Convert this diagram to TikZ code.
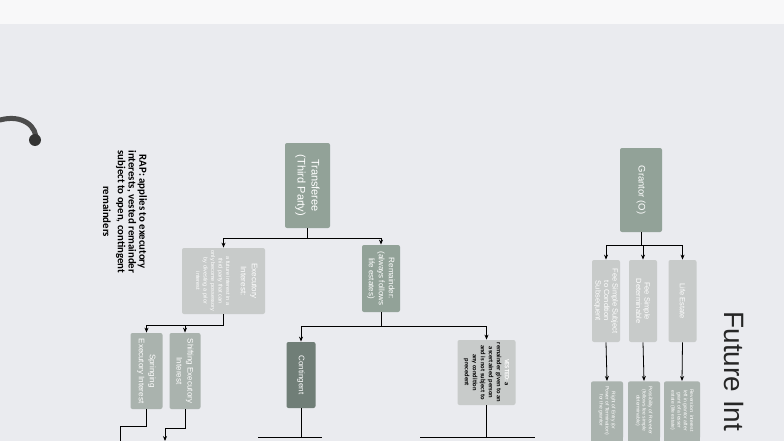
\documentclass[tikz,border=0pt]{standalone}
\usepackage{fontspec}
\setmainfont{Liberation Sans}
\newfontfamily\rapfont{Carlito}
\usetikzlibrary{arrows.meta}
\definecolor{page}{RGB}{234,235,239}
\definecolor{band}{RGB}{248,248,249}
\definecolor{boxa}{RGB}{146,162,152}
\definecolor{boxb}{RGB}{200,203,202}
\definecolor{boxc}{RGB}{112,126,119}
\definecolor{boxd}{RGB}{170,179,174}
\begin{document}
\begin{tikzpicture}[x=1pt,y=-1pt,every node/.style={align=center,rotate=-90,inner sep=1pt,text=white},
	card/.style={fill=#1,rounded corners=2pt},
	arr/.style={-{Stealth[length=5pt,width=4pt]}},
	line width=0.8pt]
	\useasboundingbox(0,0)rectangle(784,441);
	\fill[page](0,0)rectangle(784,441);
	\fill[band](0,0)rectangle(784,24);
	% binder ring
	\draw[line width=5pt,gray!60!black,line cap=round](0,120) .. controls (22,114) and (38,126) .. (36,142);
	\fill[black!80](35,140)circle(6pt);
	
	\node[card=boxa,minimum width=85pt,minimum height=45pt,font=\fontsize{11}{14}\selectfont](tr)at(307.5,185.5){Transferee\\(Third Party)};
	\node[card=boxb,minimum width=66pt,minimum height=83pt](ex)at(223.5,281){};
	\node[font=\fontsize{8}{11}\selectfont](ext)at(249,281){Executory\\Interest:};
	\node[font=\fontsize{5.5}{7.5}\selectfont](exb)at(213,281){a future interest in a\\third party that can\\only become possessory\\by divesting a prior\\interest};
	\node[card=boxa,minimum width=67pt,minimum height=38pt,font=\fontsize{8}{10}\selectfont](rm)at(381,278.5){Remainder:\\(always follows\\life estates)};
	
	\node[card=boxd,minimum width=76pt,minimum height=32pt,font=\fontsize{8}{11}\selectfont](sp)at(146.5,371){Springing\\Executory Interest};
	\node[card=boxd,minimum width=76pt,minimum height=31pt,font=\fontsize{8}{11}\selectfont](sh)at(185,371){Shifting Executory\\Interest};
	\node[card=boxc,minimum width=66pt,minimum height=29pt,font=\fontsize{8}{10}\selectfont](ct)at(301,375){Contingent};
	\node[card=boxb,minimum width=65pt,minimum height=58pt,text=black,font=\rapfont\bfseries\fontsize{6.5}{8}\selectfont](vs)at(486.5,372.5){\textcolor{white}{VESTED:} a\\remainder given to an\\ascertained person\\and is not subject to\\any condition\\precedent};
	
	\node[text=black,font=\rapfont\bfseries\fontsize{10.8}{10.8}\selectfont,anchor=west](rap)at(125,149){RAP: applies to executory\\interests, vested remainder\\subject to open, contingent\\[4pt]remainders};
	
	\node[card=boxa,minimum width=84pt,minimum height=42pt,font=\fontsize{9.5}{12}\selectfont](gr)at(641,190){Grantor (O)};
	\foreach \i/\x/\t in {1/606/{Fee Simple Subject\\to Condition\\Subsequent},2/643/{Fee Simple\\Determinable},3/682.5/{Life Estate}}
	\node[card=boxb,minimum width=82pt,minimum height=28pt,font=\fontsize{7.5}{8.5}\selectfont](f\i)at(\x,301){\t};
	% lower boxes run past the page edge
	\foreach \x/\w in {607/32,644/32,682/36}
	\fill[boxd](\x-\w/2,420)rectangle(\x+\w/2,450);
	\foreach \i/\x/\w/\t in {1/607/32/{Right of Entry (or\\Power of Termination)\\for the grantor},2/644/32/{Possibility of Reverter\\(follows fee simple\\determinable)},3/682/36/{Reversion: interest\\left in grantor after\\grant of a lesser\\estate (life estate)}}
	\node[card=boxd,minimum width=58pt,minimum height=\w pt,font=\fontsize{5}{6.2}\selectfont,anchor=west](b\i)at(\x,381){\t};
	
	\node[text=black!85,font=\fontsize{28}{32}\selectfont,anchor=west](ti)at(734,310){Future Int};
	
	% connectors
	\coordinate(j1)at(307.5,238);
	\coordinate(j2)at(223.5,325);
	\coordinate(j3)at(381,326);
	\coordinate(j4)at(641,245);
	\draw(tr.east)--(j1);
	\draw[arr](j1)-|(ex.west);
	\draw[arr](j1)-|(rm.west);
	\draw(ex.east)--(j2);
	\draw[arr](j2)-|(sp.west);
	\draw[arr](j2)-|(sh.west);
	\draw(rm.east)--(j3);
	\draw[arr](j3)-|(ct.west);
	\draw[arr](j3)-|(vs.west);
	\draw(gr.east)--(j4);
	\foreach \i in{1,2,3}
	{\draw[arr](j4)-|(f\i.west);
		\draw[arr](f\i.east)--(b\i.west);}
	
	% lines running off the page
	\coordinate(k1)at(120,426);
	\coordinate(o1)at(120,445);
	\coordinate(k2)at(165,428);
	\coordinate(o2)at(165,441);
	\draw(sp.east)|-(k1)--(o1);
	\draw[arr](sh.east)|-(k2)--(o2);
	\coordinate(k3)at(301,437);
	\coordinate(l3)at(258,437);
	\coordinate(r3)at(322,437);
	\draw(ct.east)--(k3);
	\draw(l3)--(r3);
	\coordinate(k4)at(486.5,437);
	\coordinate(l4)at(420,437);
	\coordinate(r4)at(535,437);
	\draw(vs.east)--(k4);
	\draw(l4)--(r4);
\end{tikzpicture}
\end{document}
